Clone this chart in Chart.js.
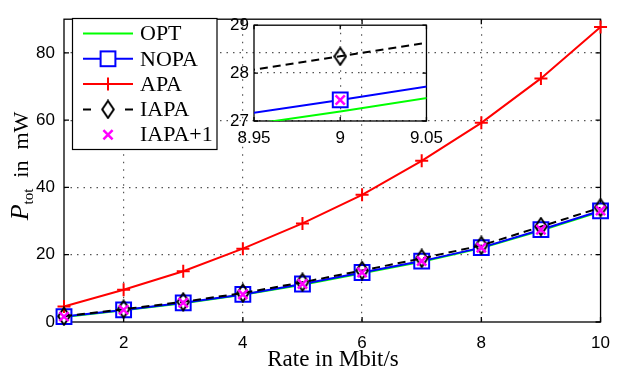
<!DOCTYPE html>
<html>
<head>
<meta charset="utf-8">
<script src="https://cdn.jsdelivr.net/npm/chart.js@4/dist/chart.umd.min.js"></script>
<style>
  html, body { margin: 0; padding: 0; background: #fff; }
  #wrap { position: relative; width: 621px; height: 369px; }
  #main { position: absolute; left: 0; top: 0; }
  #inset { position: absolute; left: 200px; top: 10px; }
</style>
</head>
<body>
<div id="wrap">
  <canvas id="main" width="621" height="369"></canvas>
  <canvas id="inset" width="250" height="140"></canvas>
</div>
<script>
// data (power in mW vs rate in Mbit/s)
var rates = [1, 2, 3, 4, 5, 6, 7, 8, 9, 10];
var optPower  = [1.5, 3.5, 5.6, 8.1, 11.1, 14.5, 17.9, 21.95, 27.2, 32.8];
var nopaPower = [1.6, 3.6, 5.7, 8.2, 11.3, 14.7, 18.1, 22.1, 27.44, 33.05];
var apaPower  = [4.6, 9.6, 15.1, 21.8, 29.3, 37.8, 47.9, 59.2, 72.4, 87.7];
var iapaPower = [1.7, 3.8, 6.0, 8.6, 11.8, 15.3, 18.9, 22.75, 28.35, 34.0];
var iapa1Power = [1.6, 3.6, 5.7, 8.2, 11.3, 14.7, 18.1, 22.1, 27.44, 33.1];

var xTicks = [2, 4, 6, 8, 10];
var yTicks = [0, 20, 40, 60, 80];
var insetXTicks = [8.95, 9, 9.05];
var insetYTicks = [27, 28, 29];
var seriesNames = ['OPT', 'NOPA', 'APA', 'IAPA', 'IAPA+1'];

var tickFont = { family: '"Liberation Sans", Arial, sans-serif', size: 17 };
var serif = '"Liberation Serif", "Times New Roman", serif';

// unfilled diamond marker, a bit taller than wide like matlab's
var diamond = document.createElement('canvas');
diamond.width = 14; diamond.height = 20;
(function () {
  var c = diamond.getContext('2d');
  c.strokeStyle = '#000';
  c.lineWidth = 2;
  c.beginPath();
  c.moveTo(7, 1.5); c.lineTo(12.8, 10); c.lineTo(7, 18.5); c.lineTo(1.2, 10);
  c.closePath();
  c.stroke();
})();

function pts(arr) {
  return rates.map(function (r, i) { return { x: r, y: arr[i] }; });
}

function makeDatasets(noClip) {
  var sets = [
    { label: seriesNames[0], data: pts(optPower), borderColor: '#00ff00', borderWidth: 2,
      pointRadius: 0, order: 5 },
    { label: seriesNames[1], data: pts(nopaPower), borderColor: '#0000ff', borderWidth: 2,
      pointStyle: 'rect', pointRadius: 10.5, pointBorderWidth: 2,
      pointBorderColor: '#0000ff', pointBackgroundColor: '#ffffff', order: 4 },
    { label: seriesNames[2], data: pts(apaPower), borderColor: '#ff0000', borderWidth: 2,
      pointStyle: 'cross', pointRadius: 6.5, pointBorderWidth: 2,
      pointBorderColor: '#ff0000', order: 3 },
    { label: seriesNames[3], data: pts(iapaPower), borderColor: '#000000', borderWidth: 2,
      borderDash: [8, 5], pointStyle: diamond, pointRadius: 8, order: 2 },
    { label: seriesNames[4], data: pts(iapa1Power), showLine: false, borderColor: '#ff00ff',
      pointStyle: 'crossRot', pointRadius: 6.5, pointBorderWidth: 2.5,
      pointBorderColor: '#ff00ff', order: 1 }
  ];
  sets.forEach(function (s) {
    s.tension = 0;
    s.fill = false;
    if (noClip) s.clip = false;
  });
  return sets;
}

// box round the axes plus matlab-style inward ticks on all four sides
function framePlugin(xt, yt, len) {
  return {
    id: 'frame',
    beforeDatasetsDraw: function (chart) {
      var a = chart.chartArea, ctx = chart.ctx;
      var xs = chart.scales.x, ys = chart.scales.y;
      ctx.save();
      ctx.strokeStyle = '#000';
      ctx.lineWidth = 1.3;
      ctx.strokeRect(a.left, a.top, a.right - a.left, a.bottom - a.top);
      ctx.beginPath();
      xt.forEach(function (v) {
        var px = xs.getPixelForValue(v);
        ctx.moveTo(px, a.bottom); ctx.lineTo(px, a.bottom - len);
        ctx.moveTo(px, a.top); ctx.lineTo(px, a.top + len);
      });
      yt.forEach(function (v) {
        var py = ys.getPixelForValue(v);
        ctx.moveTo(a.left, py); ctx.lineTo(a.left + len, py);
        ctx.moveTo(a.right, py); ctx.lineTo(a.right - len, py);
      });
      ctx.stroke();
      ctx.restore();
    }
  };
}

function drawMarker(ctx, i, x, y) {
  ctx.save();
  ctx.beginPath();
  if (i === 1) {
    ctx.fillStyle = '#fff';
    ctx.fillRect(x - 7.4, y - 7.4, 14.8, 14.8);
    ctx.strokeStyle = '#0000ff'; ctx.lineWidth = 2;
    ctx.strokeRect(x - 7.4, y - 7.4, 14.8, 14.8);
  } else if (i === 2) {
    ctx.strokeStyle = '#ff0000'; ctx.lineWidth = 2;
    ctx.moveTo(x - 6.5, y); ctx.lineTo(x + 6.5, y);
    ctx.moveTo(x, y - 6.5); ctx.lineTo(x, y + 6.5);
    ctx.stroke();
  } else if (i === 3) {
    ctx.drawImage(diamond, x - 7, y - 10);
  } else if (i === 4) {
    ctx.strokeStyle = '#ff00ff'; ctx.lineWidth = 2.5;
    ctx.moveTo(x - 4.6, y - 4.6); ctx.lineTo(x + 4.6, y + 4.6);
    ctx.moveTo(x + 4.6, y - 4.6); ctx.lineTo(x - 4.6, y + 4.6);
    ctx.stroke();
  }
  ctx.restore();
}

var legendPlugin = {
  id: 'boxLegend',
  afterDraw: function (chart) {
    var ctx = chart.ctx;
    var bx = 72.5, by = 18.5, bw = 144.5, bh = 131;
    var colors = ['#00ff00', '#0000ff', '#ff0000', '#000000'];
    ctx.save();
    ctx.fillStyle = '#fff';
    ctx.fillRect(bx, by, bw, bh);
    ctx.strokeStyle = '#000';
    ctx.lineWidth = 1.2;
    ctx.strokeRect(bx, by, bw, bh);
    seriesNames.forEach(function (name, i) {
      var y = by + 15 + i * 25.3;
      ctx.lineWidth = 2;
      if (i < 3) {
        ctx.strokeStyle = colors[i];
        ctx.beginPath(); ctx.moveTo(83, y); ctx.lineTo(133, y); ctx.stroke();
      } else if (i === 3) {
        ctx.strokeStyle = '#000';
        ctx.beginPath();
        ctx.moveTo(83, y); ctx.lineTo(91, y);
        ctx.moveTo(125, y); ctx.lineTo(133, y);
        ctx.stroke();
      }
      drawMarker(ctx, i, 108, y);
      ctx.fillStyle = '#000';
      ctx.font = '22px ' + serif;
      ctx.textBaseline = 'middle';
      ctx.textAlign = 'left';
      ctx.fillText(name, 140, y + 1);
    });
    ctx.restore();
  }
};

var titlesPlugin = {
  id: 'axisTitles',
  afterDraw: function (chart) {
    var ctx = chart.ctx;
    ctx.save();
    ctx.fillStyle = '#000';
    // x title
    ctx.font = '23px ' + serif;
    ctx.textAlign = 'center';
    ctx.textBaseline = 'alphabetic';
    ctx.fillText('Rate in Mbit/s', 333, 366);
    // y title: P with subscript tot, then "in mW"
    ctx.translate(28, 166);
    ctx.rotate(-Math.PI / 2);
    var f1 = 'italic 26px ' + serif, f2 = '15px ' + serif, f3 = '22px ' + serif;
    ctx.font = f1; var w1 = ctx.measureText('P').width;
    ctx.font = f2; var w2 = ctx.measureText('tot').width;
    ctx.font = f3; var w3 = ctx.measureText('  in  mW').width;
    var x0 = -(w1 + w2 + w3) / 2;
    ctx.textAlign = 'left';
    ctx.font = f1; ctx.fillText('P', x0, 0);
    ctx.font = f2; ctx.fillText('tot', x0 + w1, 5);
    ctx.font = f3; ctx.fillText('  in  mW', x0 + w1 + w2, 0);
    ctx.restore();
  }
};

function axisOpts(min, max, ticks, pad, fixed, isX, gridVals) {
  return {
    type: 'linear',
    min: min,
    max: max,
    afterBuildTicks: function (s) {
      s.ticks = ticks.map(function (v) { return { value: v }; });
    },
    afterFit: function (s) {
      if (isX) s.height = fixed; else s.width = fixed;
    },
    ticks: {
      font: tickFont,
      color: '#000',
      padding: pad,
      autoSkip: false,
      maxRotation: 0,
      callback: function (v) { return String(v); }
    },
    grid: {
      drawTicks: false,
      color: function (c) {
        return gridVals.indexOf(c.tick.value) >= 0 ? '#555' : 'rgba(0,0,0,0)';
      },
      lineWidth: 1.2
    },
    border: { display: false, dash: [1.5, isX ? 6 : 5] }
  };
}

new Chart(document.getElementById('main'), {
  type: 'line',
  data: { datasets: makeDatasets(true) },
  options: {
    responsive: false,
    animation: false,
    events: [],
    layout: { padding: { top: 10, right: 11, left: 0, bottom: 0 } },
    plugins: { legend: { display: false }, tooltip: { enabled: false } },
    scales: {
      x: axisOpts(1, 10, xTicks, 11, 47, true, [2, 4, 6, 8]),
      y: axisOpts(0, 90, yTicks, 9, 64, false, [20, 40, 60, 80])
    }
  },
  plugins: [framePlugin(xTicks, yTicks, 5), legendPlugin, titlesPlugin]
});

new Chart(document.getElementById('inset'), {
  type: 'line',
  data: { datasets: makeDatasets(false) },
  options: {
    responsive: false,
    animation: false,
    events: [],
    layout: { padding: { top: 13, right: 20, left: 0, bottom: 0 } },
    plugins: { legend: { display: false }, tooltip: { enabled: false } },
    scales: {
      x: axisOpts(8.95, 9.05, insetXTicks, 7, 29, true, [9]),
      y: axisOpts(27, 29, insetYTicks, 5, 54, false, [28])
    }
  },
  plugins: [framePlugin(insetXTicks, insetYTicks, 4)]
});
</script>
</body>
</html>
